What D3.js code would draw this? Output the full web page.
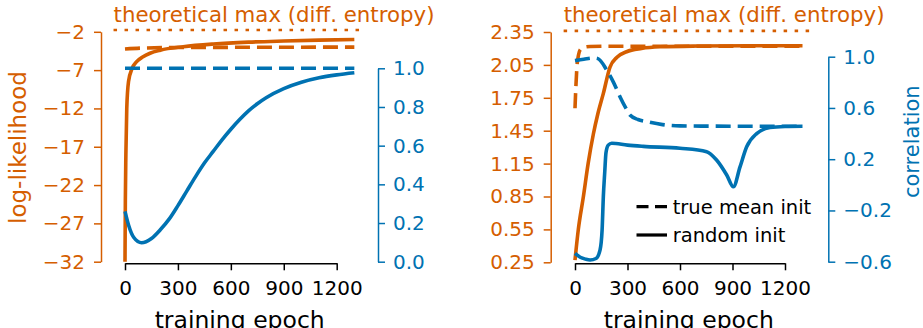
<!DOCTYPE html>
<html>
<head>
<meta charset="utf-8">
<script src="https://cdn.jsdelivr.net/npm/d3@7"></script>
<style>
  html, body { margin: 0; padding: 0; background: #fff; }
  svg { display: block; font-family: "DejaVu Sans", sans-serif; }
</style>
</head>
<body>
<svg id="chart" width="923" height="328"></svg>
<script>
// ---------------- DATA ----------------
const ORANGE = "#d55e00", BLUE = "#0072b2";

const xTicks = [0, 300, 600, 900, 1200];

// Left panel
const leftLLTicks = [-2, -7, -12, -17, -22, -27, -32];
const leftCorrTicks = [0.0, 0.2, 0.4, 0.6, 0.8, 1.0];
const leftMaxLL = -1.77;

const leftLLRandEpoch = [0, 2, 5, 10, 20, 40, 66, 100, 142, 200, 330, 500, 700, 900, 1100, 1300];
const leftLLRand      = [-32, -24, -18, -12, -8.5, -6.8, -5.9, -5.3, -4.8, -4.4, -3.95, -3.6, -3.35, -3.2, -3.08, -3.0];
const leftLLTrueEpoch = [0, 100, 300, 700, 1300];
const leftLLTrue      = [-4.25, -4.12, -4.05, -4.02, -4.0];
const leftCorrTrueEpoch = [0, 1300];
const leftCorrTrue      = [1.0, 1.0];
const leftCorrRandEpoch = [0, 20, 50, 94, 150, 200, 250, 300, 350, 400, 450, 500, 550, 600, 650, 700, 750, 800, 900, 1000, 1100, 1200, 1300];
const leftCorrRand      = [0.26, 0.19, 0.125, 0.098, 0.12, 0.165, 0.22, 0.29, 0.365, 0.44, 0.51, 0.57, 0.63, 0.685, 0.735, 0.78, 0.817, 0.848, 0.895, 0.928, 0.951, 0.966, 0.977];

// Right panel
const rightLLTicks = [0.25, 0.55, 0.85, 1.15, 1.45, 1.75, 2.05, 2.35];
const rightCorrTicks = [-0.6, -0.2, 0.2, 0.6, 1.0];
const rightMaxLL = 2.36;

const rightLLRandEpoch = [0, 19, 48, 75, 105, 130, 162, 200, 240, 295, 380, 486, 700, 1000, 1300];
const rightLLRand      = [0.27, 0.55, 0.85, 1.15, 1.42, 1.6, 1.79, 2.03, 2.12, 2.17, 2.2, 2.215, 2.222, 2.225, 2.225];
const rightLLTrueEpoch = [0, 5, 12, 20, 29, 50, 86, 200, 1300];
const rightLLTrue      = [1.655, 1.85, 2.05, 2.14, 2.186, 2.21, 2.218, 2.22, 2.22];
const rightCorrTrueEpoch = [0, 50, 105, 131, 181, 220, 257, 290, 314, 360, 410, 500, 600, 800, 1300];
const rightCorrTrue      = [0.969, 0.98, 0.99, 0.985, 0.896, 0.8, 0.688, 0.6, 0.545, 0.51, 0.493, 0.47, 0.46, 0.458, 0.457];
const rightCorrRandEpoch = [0, 30, 60, 86, 120, 143, 155, 162, 170, 177, 190, 210, 300, 390, 600, 752, 809, 867, 905, 943, 981, 1038, 1114, 1200, 1300];
const rightCorrRand      = [-0.535, -0.565, -0.58, -0.587, -0.575, -0.51, -0.35, -0.09, 0.1, 0.25, 0.31, 0.325, 0.31, 0.30, 0.285, 0.259, 0.194, 0.077, -0.015, 0.14, 0.297, 0.40, 0.447, 0.455, 0.457];

const xLimits = [-65, 1365];
const maxLabel = "theoretical max (diff. entropy)";
const legendLabels = ["true mean init", "random init"];

// ---------------- DRAW ----------------
const svg = d3.select("#chart");
const zip = (xs, ys) => xs.map((x, i) => [x, ys[i]]);

function styleAxis(g, color) {
  g.select(".domain").attr("stroke", color).attr("stroke-width", 1.5);
  g.selectAll(".tick line").attr("stroke", color).attr("stroke-width", 1.5);
  g.selectAll(".tick text").attr("fill", color).attr("font-size", 20).attr("font-family", "DejaVu Sans");
}

function panel(cfg) {
  const x = d3.scaleLinear().domain([0, 1200]).range(cfg.xRange);
  const yL = d3.scaleLinear().domain(cfg.llDomain).range(cfg.llRange);
  const yR = d3.scaleLinear().domain(cfg.corrDomain).range(cfg.corrRange);

  const g = svg.append("g");

  const axL = d3.axisLeft(yL).tickValues(cfg.llTicks).tickSize(7).tickPadding(9)
    .tickFormat(cfg.llFormat).tickSizeOuter(0);
  g.append("g").attr("transform", `translate(${cfg.llAxisX},0)`).call(axL).call(s => styleAxis(s, ORANGE));

  const axR = d3.axisRight(yR).tickValues(cfg.corrTicks).tickSize(7).tickPadding(8)
    .tickFormat(d3.format(".1f")).tickSizeOuter(0);
  g.append("g").attr("transform", `translate(${cfg.corrAxisX},0)`).call(axR).call(s => styleAxis(s, BLUE));

  const axB = d3.axisBottom(x).tickValues(xTicks).tickSize(7).tickPadding(11)
    .tickFormat(d3.format("d")).tickSizeOuter(0);
  g.append("g").attr("transform", `translate(0,${cfg.xAxisY})`).call(axB).call(s => styleAxis(s, "#000"));

  g.append("line")
    .attr("x1", x(xLimits[0])).attr("x2", x(xLimits[1]))
    .attr("y1", yL(cfg.maxLL)).attr("y2", yL(cfg.maxLL))
    .attr("stroke", ORANGE).attr("stroke-width", 2.6).attr("stroke-dasharray", "3.5,7.5");
  g.append("text").attr("x", x(xLimits[0])).attr("y", 22)
    .attr("fill", ORANGE).attr("font-size", 21.3).text(maxLabel);

  const lineL = d3.line().x(d => x(d[0])).y(d => yL(d[1])).curve(d3.curveMonotoneX);
  const lineR = d3.line().x(d => x(d[0])).y(d => yR(d[1])).curve(d3.curveMonotoneX);

  const path = (data, gen, color, dashed) => g.append("path")
    .attr("d", gen(data)).attr("fill", "none").attr("stroke", color)
    .attr("stroke-width", 3.6).attr("stroke-linejoin", "round")
    .attr("stroke-dasharray", dashed ? "15,7" : null);

  path(zip(cfg.llTrueE, cfg.llTrue), lineL, ORANGE, true);
  path(zip(cfg.llRandE, cfg.llRand), lineL, ORANGE, false);
  path(zip(cfg.corrTrueE, cfg.corrTrue), lineR, BLUE, true);
  path(zip(cfg.corrRandE, cfg.corrRand), lineR, BLUE, false);

  svg.append("text").attr("x", (x(xLimits[0]) + x(xLimits[1])) / 2).attr("y", 328)
    .attr("text-anchor", "middle").attr("font-size", 23.5).attr("fill", "#000").text("training epoch");
  return { x, yL, yR };
}

panel({
  xRange: [125, 336.7],
  llDomain: [-32, -2], llRange: [261.7, 31.8],
  corrDomain: [0, 1], corrRange: [261.7, 68.3],
  llTicks: leftLLTicks, corrTicks: leftCorrTicks,
  llFormat: d3.format("d"),
  llAxisX: 101, corrAxisX: 378, xAxisY: 263.3,
  maxLL: leftMaxLL,
  llRandE: leftLLRandEpoch, llRand: leftLLRand,
  llTrueE: leftLLTrueEpoch, llTrue: leftLLTrue,
  corrTrueE: leftCorrTrueEpoch, corrTrue: leftCorrTrue,
  corrRandE: leftCorrRandEpoch, corrRand: leftCorrRand
});

panel({
  xRange: [575, 785],
  llDomain: [0.25, 2.35], llRange: [262.3, 32],
  corrDomain: [-0.6, 1.0], corrRange: [261.7, 56.7],
  llTicks: rightLLTicks, corrTicks: rightCorrTicks,
  llFormat: d3.format(".2f"),
  llAxisX: 550.7, corrAxisX: 828.3, xAxisY: 263.3,
  maxLL: rightMaxLL,
  llRandE: rightLLRandEpoch, llRand: rightLLRand,
  llTrueE: rightLLTrueEpoch, llTrue: rightLLTrue,
  corrTrueE: rightCorrTrueEpoch, corrTrue: rightCorrTrue,
  corrRandE: rightCorrRandEpoch, corrRand: rightCorrRand
});

svg.append("text").attr("transform", "translate(25.5,147.5) rotate(-90)")
  .attr("text-anchor", "middle").attr("font-size", 23).attr("fill", ORANGE).text("log-likelihood");
svg.append("text").attr("transform", "translate(919,141.7) rotate(-90)")
  .attr("text-anchor", "middle").attr("font-size", 21).attr("fill", BLUE).text("correlation");

const legend = svg.append("g");
const legY = [206.7, 235];
legendLabels.forEach((lab, i) => {
  legend.append("line").attr("x1", 636.5).attr("x2", 667).attr("y1", legY[i]).attr("y2", legY[i])
    .attr("stroke", "#000").attr("stroke-width", 3.2)
    .attr("stroke-dasharray", i === 0 ? "12,6.5" : null);
  legend.append("text").attr("x", 672.7).attr("y", legY[i] + 6.8)
    .attr("font-size", 19.5).attr("fill", "#000").text(lab);
});
</script>
</body>
</html>
